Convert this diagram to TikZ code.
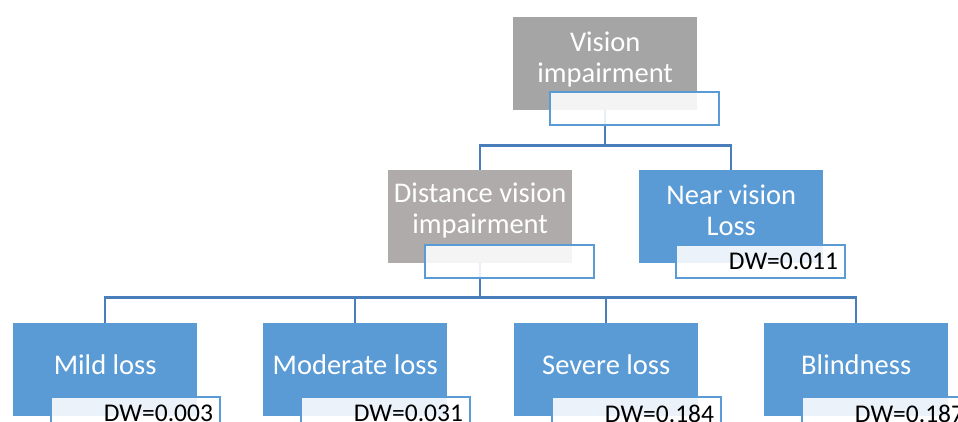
\documentclass[tikz,border=0pt]{standalone}
\usepackage{fontspec}
\setmainfont{Carlito}

\definecolor{topgray}{HTML}{A5A5A5}
\definecolor{distgray}{HTML}{AFABAB}
\definecolor{boxblue}{HTML}{5B9BD5}
\definecolor{linkblue}{HTML}{4A7EBB}

\tikzset{
    mainbox/.style={anchor=north west, inner sep=0pt,
        minimum width=184pt, minimum height=93pt},
    maintext/.style={text=white, align=center,
        font=\fontsize{28.5}{31}\selectfont},
    dwbox/.style={draw=boxblue, line width=2pt, fill=white, fill opacity=0.88,
        text opacity=1, anchor=north west, inner xsep=7pt, inner ysep=0pt,
        minimum height=33pt, text width=155pt, align=right,
        font=\fontsize{25.5}{27}\selectfont},
    link/.style={draw=linkblue, line width=2.2pt}
}

\begin{document}
\begin{tikzpicture}[x=1pt,y=-1pt]

\clip (0,0) rectangle (958,421);

% Vision impairment
\node[mainbox, fill=topgray] (vision) at (513,17) {};
\node[maintext] (visiontxt) at ([yshift=-42pt]vision.north) {Vision\\impairment};

% Second row
\node[mainbox, fill=distgray] (dist) at (388,170) {};
\node[maintext] (disttxt) at ([yshift=-40pt]dist.north) {Distance vision\\impairment};

\node[mainbox, fill=boxblue] (near) at (639,170) {};
\node[maintext] (neartxt) at ([yshift=-40pt]near.north) {Near vision\\Loss};

% Third row
\node[mainbox, fill=boxblue] (mild) at (13,323) {};
\node[maintext] (mildtxt) at ([yshift=-42pt]mild.north) {Mild loss};

\node[mainbox, fill=boxblue] (moderate) at (263,323) {};
\node[maintext] (moderatetxt) at ([yshift=-42pt]moderate.north) {Moderate loss};

\node[mainbox, fill=boxblue] (severe) at (514,323) {};
\node[maintext] (severetxt) at ([yshift=-42pt]severe.north) {Severe loss};

\node[mainbox, fill=boxblue] (blind) at (764,323) {};
\node[maintext] (blindtxt) at ([yshift=-42pt]blind.north) {Blindness};

% Connectors
\draw[link] (vision.south) -- ++(0,35) -| (dist.north);
\draw[link] (vision.south) -- ++(0,35) -| (near.north);
\foreach \child in {mild,moderate,severe,blind}
    \draw[link] (dist.south) -- ++(0,34) -| (\child.north);

% DW boxes
\node[dwbox] (visiondw) at ([xshift=36pt,yshift=-74pt]vision.north west) {};
\node[dwbox] (distdw) at ([xshift=36pt,yshift=-74pt]dist.north west) {};
\node[dwbox] (neardw) at ([xshift=36pt,yshift=-74pt]near.north west) {DW=0.011};
\node[dwbox] (milddw) at ([xshift=37pt,yshift=-73pt]mild.north west) {DW=0.003};
\node[dwbox] (moderatedw) at ([xshift=37pt,yshift=-73pt]moderate.north west) {DW=0.031};
\node[dwbox] (severedw) at ([xshift=37pt,yshift=-73pt]severe.north west) {DW=0.184};
\node[dwbox] (blinddw) at ([xshift=37pt,yshift=-73pt]blind.north west) {DW=0.187};

\end{tikzpicture}
\end{document}
